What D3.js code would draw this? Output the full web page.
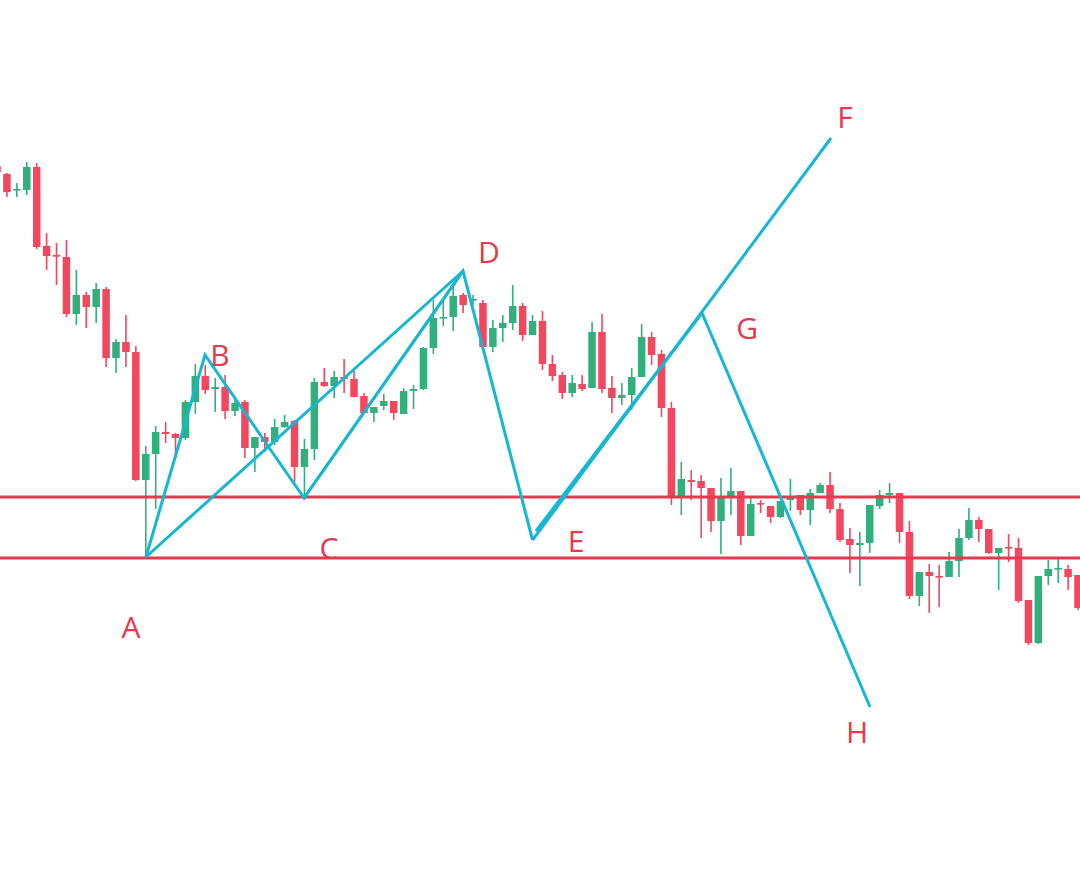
<!DOCTYPE html>
<html>
<head>
<meta charset="utf-8">
<script src="https://cdn.jsdelivr.net/npm/d3@7"></script>
<style>
  html, body { margin: 0; padding: 0; background: #fff; }
  svg { display: block; }
</style>
</head>
<body>
<div id="chart"></div>
<script>
// Candle data (price units), one entry per bar
const open  = [834,826,810,810,833,754,745,743,686,705,693,711,642,658,648,520,546,568,566,562,
               598,624,611,613,589,598,552,563,558,573,579,533,551,618,614,623,621,604,587,594,
               599,586,609,611,652,682,683,705,700,697,653,672,677,694,665,679,636,625,607,616,
               612,668,612,602,605,623,663,646,592,504,520,519,512,479,504,509,464,497,494,483,
               500,505,490,507,515,491,461,455,457,494,505,507,468,404,428,424,423,439,462,480,
               471,447,453,452,400,357,424,431,431,425];
const high  = [838,827,817,838,837,767,757,760,730,708,717,713,661,685,654,554,574,578,567,600,
               636,635,622,625,603,600,563,567,581,585,580,561,622,632,629,641,629,607,593,606,
               599,612,615,653,700,700,715,707,705,700,680,685,715,697,685,689,645,628,625,625,
               678,686,624,617,632,676,668,650,598,538,530,525,512,522,532,509,503,500,494,499,
               521,505,511,517,528,497,472,468,495,510,517,507,479,428,436,435,448,471,492,483,
               471,452,466,462,400,424,440,442,435,425];
const low   = [825,803,803,805,751,730,715,683,675,672,677,633,627,633,519,443,491,557,542,560,
               586,606,588,581,584,542,528,548,555,572,518,500,540,613,602,607,603,587,578,590,
               580,586,591,610,646,674,669,687,695,653,648,658,670,659,665,630,619,601,603,609,
               612,607,587,595,590,623,635,583,495,485,500,462,468,446,485,455,464,487,477,482,
               489,485,475,507,487,458,427,414,447,491,497,457,401,394,387,393,423,423,460,458,
               446,410,438,397,355,356,415,417,410,390];
const close = [828,808,811,833,753,744,744,686,705,693,711,642,658,648,520,546,568,566,562,598,
               624,610,613,589,597,552,563,558,573,578,533,551,618,614,623,621,603,587,593,599,
               587,609,611,652,682,683,704,695,701,653,672,677,694,665,679,636,624,607,617,611,
               668,611,602,605,623,663,645,592,502,521,518,512,479,504,509,464,496,496,483,499,
               504,490,507,515,491,460,455,457,495,505,507,468,404,428,424,423,439,462,480,471,
               447,452,452,399,357,424,431,432,423,392];

// Horizontal support / resistance levels
const levels = [503, 442];

// Pattern pivots: bar position and price
const pivotNames = ["A", "B", "C", "D", "E", "E2", "G", "F", "H"];
const pivotBar   = [15.02, 20.97, 30.96, 46.99, 54.0, 54.35, 71.09, 84.1, 88.03];
const pivotPrice = [443, 645, 502, 729, 460, 469, 687, 862, 293];

// Segments drawn between pivots
const paths = [
  ["A", "B", "C", "D", "E"],
  ["A", "D"],
  ["C", "D"],
  ["E", "F"],
  ["E2", "G"],
  ["G", "H"]
];

// Letter labels
const labelText  = ["A", "B", "C", "D", "E", "F", "G", "H"];
const labelBar   = [13.51, 22.49, 33.48, 49.61, 58.38, 85.51, 75.63, 86.72];
const labelPrice = [362, 634, 441, 737, 448, 872, 661, 257];

const width = 1080, height = 876;
const upColor = "#31AF7D", downColor = "#F2475E";
const lineColor = "#E8384F", patternColor = "#17B6D1";

const candles = open.map((o, i) => ({ i, o, h: high[i], l: low[i], c: close[i] }));

const x = d3.scaleLinear()
    .domain([0, candles.length - 1])
    .range([-3, 1078]);

const y = d3.scaleLinear()
    .domain([124, 1000])
    .range([height, 0]);

const svg = d3.select("#chart")
    .append("svg")
    .attr("width", width)
    .attr("height", height);

svg.append("rect")
    .attr("width", width)
    .attr("height", height)
    .attr("fill", "#fff");

// Candles
const bodyW = 7.5;
const g = svg.append("g");

g.selectAll("line.wick")
    .data(candles)
    .enter()
    .append("line")
    .attr("class", "wick")
    .attr("x1", d => x(d.i))
    .attr("x2", d => x(d.i))
    .attr("y1", d => y(d.h))
    .attr("y2", d => y(d.l))
    .attr("stroke", d => d.c >= d.o ? upColor : downColor)
    .attr("stroke-width", 1.6);

g.selectAll("rect.body")
    .data(candles)
    .enter()
    .append("rect")
    .attr("class", "body")
    .attr("x", d => x(d.i) - bodyW / 2)
    .attr("y", d => y(Math.max(d.o, d.c)))
    .attr("width", bodyW)
    .attr("height", d => Math.max(1.6, Math.abs(y(d.o) - y(d.c))))
    .attr("fill", d => d.c >= d.o ? upColor : downColor);

// Horizontal levels
svg.selectAll("line.level")
    .data(levels)
    .enter()
    .append("line")
    .attr("class", "level")
    .attr("x1", 0)
    .attr("x2", width)
    .attr("y1", d => y(d))
    .attr("y2", d => y(d))
    .attr("stroke", lineColor)
    .attr("stroke-width", 3);

// Pattern lines
const pivot = name => {
    const k = pivotNames.indexOf(name);
    return [x(pivotBar[k]), y(pivotPrice[k])];
};

const lineGen = d3.line();

svg.selectAll("path.pattern")
    .data(paths)
    .enter()
    .append("path")
    .attr("class", "pattern")
    .attr("d", d => lineGen(d.map(pivot)))
    .attr("fill", "none")
    .attr("stroke", patternColor)
    .attr("stroke-width", 3)
    .attr("stroke-linejoin", "miter")
    .attr("stroke-linecap", "butt");

// Letters
svg.selectAll("text.label")
    .data(labelText)
    .enter()
    .append("text")
    .attr("class", "label")
    .attr("x", (d, i) => x(labelBar[i]))
    .attr("y", (d, i) => y(labelPrice[i]))
    .attr("text-anchor", "middle")
    .attr("font-family", "'Open Sans', sans-serif")
    .attr("font-size", 30)
    .attr("fill", lineColor)
    .text(d => d);
</script>
</body>
</html>
